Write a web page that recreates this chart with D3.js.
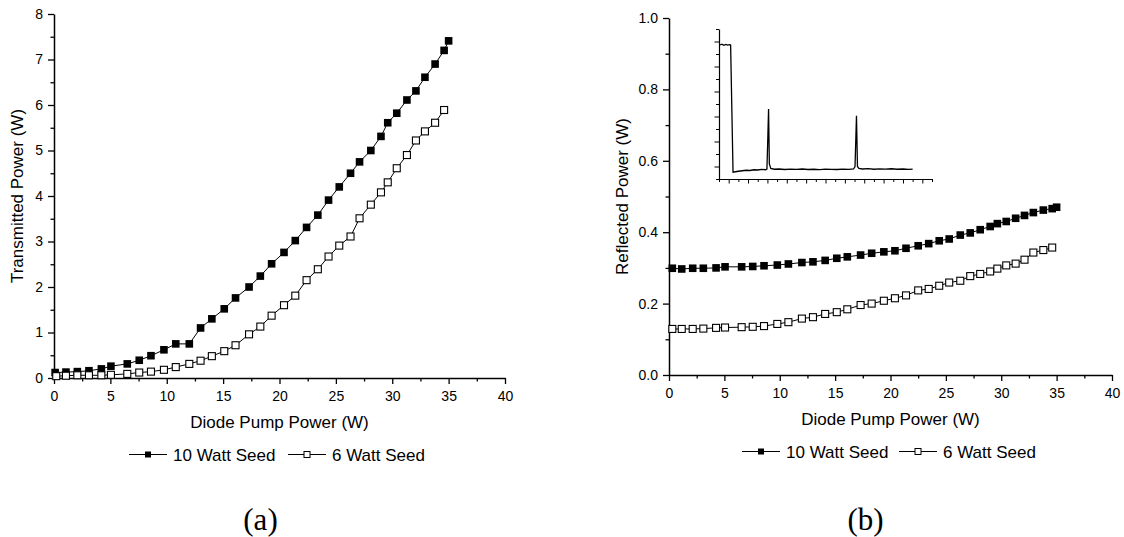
<!DOCTYPE html>
<html><head><meta charset="utf-8">
<script src="https://cdn.jsdelivr.net/npm/d3@7"></script>
<style>
body{margin:0;background:#fff}
svg{display:block}
text{font-family:"Liberation Sans",Arial,sans-serif;fill:#000}
text.serif{font-family:"Liberation Serif","Times New Roman",serif}
</style>
</head><body>
<svg id="c" width="1124" height="537"></svg>
<script>
// ---------- DATA ----------
const seriesNames = ["10 Watt Seed", "6 Watt Seed"];
const xTicks = [0, 5, 10, 15, 20, 25, 30, 35, 40];
const xMinorTicks = [2.5, 7.5, 12.5, 17.5, 22.5, 27.5, 32.5, 37.5];
const yTicksA = [0, 1, 2, 3, 4, 5, 6, 7, 8];
const yMinorTicksA = [0.5, 1.5, 2.5, 3.5, 4.5, 5.5, 6.5, 7.5];
const yTicksB = [0, 0.2, 0.4, 0.6, 0.8, 1.0];
const yMinorTicksB = [0.1, 0.3, 0.5, 0.7, 0.9];

// (a) Transmitted power
const aX10 = [0.1, 1.06, 2.07, 3.1, 4.2, 5.05, 6.5, 7.56, 8.6, 9.75, 10.8, 12.0, 13.0, 14.0, 15.1, 16.1, 17.3, 18.3, 19.3, 20.4, 21.4, 22.4, 23.4, 24.35, 25.3, 26.3, 27.1, 28.1, 29.0, 29.6, 30.4, 31.3, 32.1, 32.9, 33.8, 34.6, 35.0];
const aY10 = [0.12, 0.13, 0.14, 0.16, 0.2, 0.26, 0.31, 0.39, 0.49, 0.62, 0.75, 0.75, 1.1, 1.30, 1.52, 1.76, 2.0, 2.24, 2.51, 2.76, 3.02, 3.31, 3.58, 3.91, 4.20, 4.50, 4.75, 5.0, 5.31, 5.61, 5.82, 6.11, 6.31, 6.61, 6.9, 7.2, 7.41];
const aX6 = [0.2, 1.06, 2.07, 3.1, 4.2, 5.05, 6.5, 7.56, 8.6, 9.75, 10.8, 12.0, 13.0, 14.0, 15.1, 16.1, 17.3, 18.3, 19.3, 20.4, 21.4, 22.4, 23.4, 24.35, 25.3, 26.3, 27.1, 28.1, 29.0, 29.6, 30.4, 31.3, 32.1, 32.9, 33.8, 34.6];
const aY6 = [0.04, 0.05, 0.06, 0.06, 0.06, 0.07, 0.09, 0.12, 0.14, 0.18, 0.24, 0.31, 0.38, 0.48, 0.59, 0.72, 0.96, 1.13, 1.37, 1.6, 1.81, 2.15, 2.39, 2.67, 2.91, 3.11, 3.51, 3.81, 4.08, 4.30, 4.61, 4.90, 5.22, 5.42, 5.61, 5.89];

// (b) Reflected power
const bX10 = [0.3, 1.15, 2.14, 3.1, 4.25, 5.06, 6.56, 7.56, 8.58, 9.78, 10.78, 12.0, 13.0, 14.1, 15.15, 16.1, 17.3, 18.3, 19.4, 20.4, 21.4, 22.5, 23.45, 24.4, 25.3, 26.3, 27.2, 28.1, 29.0, 29.65, 30.45, 31.3, 32.1, 32.9, 33.8, 34.6, 35.0];
const bY10 = [0.299, 0.297, 0.299, 0.299, 0.300, 0.303, 0.303, 0.304, 0.306, 0.308, 0.311, 0.315, 0.317, 0.321, 0.327, 0.331, 0.336, 0.341, 0.345, 0.348, 0.355, 0.362, 0.368, 0.376, 0.381, 0.392, 0.398, 0.407, 0.416, 0.424, 0.430, 0.439, 0.447, 0.455, 0.462, 0.466, 0.470];
const bX6 = [0.3, 1.15, 2.14, 3.1, 4.25, 5.06, 6.56, 7.56, 8.58, 9.78, 10.78, 12.0, 13.0, 14.1, 15.15, 16.1, 17.3, 18.3, 19.4, 20.4, 21.4, 22.5, 23.45, 24.4, 25.3, 26.3, 27.2, 28.1, 29.0, 29.65, 30.45, 31.3, 32.1, 32.9, 33.8, 34.6];
const bY6 = [0.129, 0.129, 0.129, 0.130, 0.132, 0.133, 0.134, 0.135, 0.137, 0.143, 0.148, 0.158, 0.162, 0.171, 0.176, 0.184, 0.196, 0.200, 0.208, 0.215, 0.223, 0.237, 0.241, 0.250, 0.259, 0.264, 0.277, 0.283, 0.290, 0.298, 0.307, 0.312, 0.323, 0.343, 0.350, 0.357];

// inset trace (arbitrary units)
const insetT = [0.1, 0.3, 0.5, 0.7, 0.9, 1.1, 1.2, 1.45, 1.7, 2.0, 2.4, 2.8, 3.2, 3.6, 4.0, 4.4, 4.8, 4.95, 5.05, 5.12, 5.2, 5.35, 5.7, 6.2, 6.8, 7.4, 8.0, 8.6, 9.2, 9.8, 10.4, 11.0, 11.6, 12.2, 12.8, 13.4, 13.9, 14.05, 14.2, 14.3, 14.45, 14.8, 15.4, 16.0, 16.6, 17.2, 17.8, 18.4, 19.0, 19.6, 20.0];
const insetV = [10.72, 10.78, 10.70, 10.76, 10.71, 10.75, 10.72, 0.55, 0.58, 0.62, 0.66, 0.70, 0.68, 0.74, 0.72, 0.77, 0.74, 0.80, 3.5, 5.6, 1.2, 0.85, 0.78, 0.80, 0.76, 0.79, 0.77, 0.80, 0.76, 0.78, 0.75, 0.79, 0.77, 0.76, 0.79, 0.77, 0.80, 1.0, 5.05, 1.0, 0.85, 0.80, 0.83, 0.78, 0.81, 0.79, 0.82, 0.78, 0.80, 0.77, 0.79];
const insetXTicks = d3.range(0, 23, 1);
const insetYTicks = d3.range(0, 13, 1);

// ---------- DRAW ----------
const svg = d3.select("#c");
svg.append("rect").attr("width", 1124).attr("height", 537).attr("fill", "#fff");

function drawPanel(p) {
  const x = d3.scaleLinear().domain([0, 40]).range([p.left, p.right]);
  const y = d3.scaleLinear().domain(p.yDomain).range([p.bottom, p.top]);
  const g = svg.append("g");

  // minor ticks
  g.append("g").attr("transform", `translate(0,${p.bottom})`)
    .call(d3.axisBottom(x).tickValues(xMinorTicks).tickSize(3.5).tickFormat(""))
    .call(s => s.select(".domain").remove());
  g.append("g").attr("transform", `translate(${p.left},0)`)
    .call(d3.axisLeft(y).tickValues(p.yMinor).tickSize(3.5).tickFormat(""))
    .call(s => s.select(".domain").remove());

  const xa = g.append("g").attr("transform", `translate(0,${p.bottom})`)
    .call(d3.axisBottom(x).tickValues(xTicks).tickSize(6).tickSizeOuter(0).tickPadding(7.5).tickFormat(d3.format("d")));
  const ya = g.append("g").attr("transform", `translate(${p.left},0)`)
    .call(d3.axisLeft(y).tickValues(p.yTicks).tickSize(6).tickSizeOuter(0).tickPadding(5).tickFormat(p.yFmt));
  [xa, ya].forEach(a => {
    a.selectAll("text").attr("font-size", 14).attr("fill", "#000");
    a.select(".domain").attr("stroke", "#000").attr("stroke-width", 1.5);
  });
  g.selectAll(".tick line").attr("stroke", "#000").attr("stroke-width", 1.3);

  // titles
  g.append("text").attr("x", (p.left + p.right) / 2).attr("y", p.xTitleY)
    .attr("text-anchor", "middle").attr("font-size", 17).text("Diode Pump Power (W)");
  g.append("text").attr("transform", `translate(${p.yTitleX},${(p.top + p.bottom) / 2}) rotate(-90)`)
    .attr("text-anchor", "middle").attr("font-size", 17).text(p.yTitle);

  // series
  const line = d3.line().x(d => x(d[0])).y(d => y(d[1]));
  const s10 = p.x10.map((v, i) => [v, p.y10[i]]);
  const s6 = p.x6.map((v, i) => [v, p.y6[i]]);
  g.append("path").datum(s10).attr("d", line).attr("fill", "none").attr("stroke", "#000").attr("stroke-width", 1);
  g.append("path").datum(s6).attr("d", line).attr("fill", "none").attr("stroke", "#000").attr("stroke-width", 1);
  const fs = 7.6, os = 7;
  g.selectAll(null).data(s10).enter().append("rect")
    .attr("x", d => x(d[0]) - fs / 2).attr("y", d => y(d[1]) - fs / 2)
    .attr("width", fs).attr("height", fs).attr("fill", "#000");
  g.selectAll(null).data(s6).enter().append("rect")
    .attr("x", d => x(d[0]) - os / 2).attr("y", d => y(d[1]) - os / 2)
    .attr("width", os).attr("height", os).attr("fill", "#fff").attr("stroke", "#000").attr("stroke-width", 1.1);

  // legend
  const lg = g.append("g");
  const items = [
    { name: seriesNames[0], x0: p.legX[0], filled: true },
    { name: seriesNames[1], x0: p.legX[1], filled: false }
  ];
  items.forEach(it => {
    lg.append("line").attr("x1", it.x0).attr("x2", it.x0 + 38).attr("y1", p.legY).attr("y2", p.legY)
      .attr("stroke", "#000").attr("stroke-width", 1);
    const ms = 6;
    lg.append("rect").attr("x", it.x0 + 19 - ms / 2).attr("y", p.legY - ms / 2).attr("width", ms).attr("height", ms)
      .attr("fill", it.filled ? "#000" : "#fff").attr("stroke", "#000").attr("stroke-width", it.filled ? 0 : 1);
    lg.append("text").attr("x", it.x0 + 44).attr("y", p.legY + 6).attr("font-size", 17).text(it.name);
  });

  // panel letter
  g.append("text").attr("class", "serif").attr("x", p.letterX).attr("y", 530).attr("text-anchor", "middle")
    .attr("font-size", 31).text(p.letter);
  return { x, y };
}

drawPanel({
  left: 54, right: 505, top: 14, bottom: 378,
  yDomain: [0, 8], yTicks: yTicksA, yMinor: yMinorTicksA, yFmt: d3.format("d"),
  xTitleY: 428, yTitleX: 22.5, yTitle: "Transmitted Power (W)",
  x10: aX10, y10: aY10, x6: aX6, y6: aY6,
  legX: [129, 288], legY: 454.5, letter: "(a)", letterX: 260.5
});

drawPanel({
  left: 669, right: 1112, top: 18, bottom: 375,
  yDomain: [0, 1.0], yTicks: yTicksB, yMinor: yMinorTicksB, yFmt: d3.format(".1f"),
  xTitleY: 425, yTitleX: 627.5, yTitle: "Reflected Power (W)",
  x10: bX10, y10: bY10, x6: bX6, y6: bY6,
  legX: [742, 899], legY: 451.5, letter: "(b)", letterX: 865.5
});

// inset
const ix = d3.scaleLinear().domain([0, 22]).range([719, 932]);
const iy = d3.scaleLinear().domain([0, 12]).range([179, 29]);
const ig = svg.append("g");
const ixa = ig.append("g").attr("transform", "translate(0,179)")
  .call(d3.axisBottom(ix).tickValues(insetXTicks).tickSize(3).tickSizeOuter(0).tickFormat(""));
const iya = ig.append("g").attr("transform", "translate(719,0)")
  .call(d3.axisLeft(iy).tickValues(insetYTicks).tickSize(3).tickSizeOuter(0).tickFormat(""));
[ixa, iya].forEach(a => {
  a.selectAll("line").attr("stroke", "#000").attr("stroke-width", 1);
  a.select(".domain").attr("stroke", "#000").attr("stroke-width", 1.2);
});
ixa.selectAll(".tick line").filter(d => d % 2 === 1).attr("y2", 4.5);
iya.selectAll(".tick line").filter(d => d % 2 === 1).attr("x2", -4.5);
ig.append("path").datum(insetT.map((t, i) => [t, insetV[i]]))
  .attr("d", d3.line().x(d => ix(d[0])).y(d => iy(d[1])))
  .attr("fill", "none").attr("stroke", "#000").attr("stroke-width", 1.3);
</script>
</body></html>
